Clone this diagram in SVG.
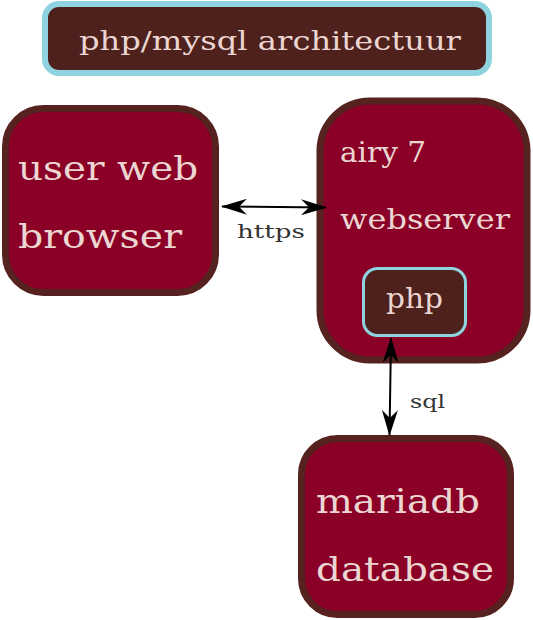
<svg xmlns="http://www.w3.org/2000/svg" width="533" height="620" viewBox="0 0 533 620">
<style>
.node{fill:#8a0026;stroke:#55221f;stroke-width:7}
.dark{fill:#4e211d;stroke:#8fd3e0}
.t{font-family:"DejaVu Serif","Liberation Serif",serif;fill:#ecd6d2;font-weight:normal}
.lbl{font-family:"DejaVu Serif","Liberation Serif",serif;fill:#333}
.conn{stroke:#000;stroke-width:2;fill:none}
</style>
<defs>
<marker id="ah" viewBox="0 0 26 16" refX="25" refY="8" markerWidth="26" markerHeight="16" markerUnits="userSpaceOnUse" orient="auto-start-reverse">
<path d="M0,0 L26,8 L0,16 L8,8 Z" fill="#000"/>
</marker>
</defs>
<g id="title">
<rect class="dark" x="45" y="4" width="444" height="69" rx="14" stroke-width="6"/>
<text class="t" x="270" y="50" font-size="26" text-anchor="middle" textLength="382" lengthAdjust="spacingAndGlyphs">php/mysql architectuur</text>
</g>
<g id="browser">
<rect class="node" x="5.5" y="108.5" width="210" height="184" rx="38"/>
<text class="t" x="18" y="180" font-size="34" textLength="180" lengthAdjust="spacingAndGlyphs">user web</text>
<text class="t" x="18" y="248" font-size="34" textLength="164" lengthAdjust="spacingAndGlyphs">browser</text>
</g>
<g id="webserver">
<rect class="node" x="320" y="101" width="207" height="259" rx="50" stroke-width="8"/>
<text class="t" x="340" y="162" font-size="27" textLength="86" lengthAdjust="spacingAndGlyphs">airy 7</text>
<text class="t" x="340" y="229" font-size="27" textLength="170" lengthAdjust="spacingAndGlyphs">webserver</text>
</g>
<g id="php">
<rect class="dark" x="363.5" y="268.5" width="102" height="67" rx="14" stroke-width="3"/>
<text class="t" x="414.5" y="308" font-size="27" text-anchor="middle" textLength="57" lengthAdjust="spacingAndGlyphs">php</text>
</g>
<g id="database">
<rect class="node" x="301.5" y="438.5" width="209" height="176" rx="36"/>
<text class="t" x="316" y="513" font-size="34" textLength="164" lengthAdjust="spacingAndGlyphs">mariadb</text>
<text class="t" x="316" y="581" font-size="34" textLength="178" lengthAdjust="spacingAndGlyphs">database</text>
</g>
<g id="connectors">
<line class="conn" x1="222" y1="206.5" x2="326" y2="207.5" marker-start="url(#ah)" marker-end="url(#ah)"/>
<text class="lbl" x="271" y="238" font-size="19" text-anchor="middle" textLength="68" lengthAdjust="spacingAndGlyphs">https</text>
<line class="conn" x1="391" y1="338" x2="389.5" y2="435" marker-start="url(#ah)" marker-end="url(#ah)"/>
<text class="lbl" x="410" y="408" font-size="19" textLength="35" lengthAdjust="spacingAndGlyphs">sql</text>
</g>
</svg>
